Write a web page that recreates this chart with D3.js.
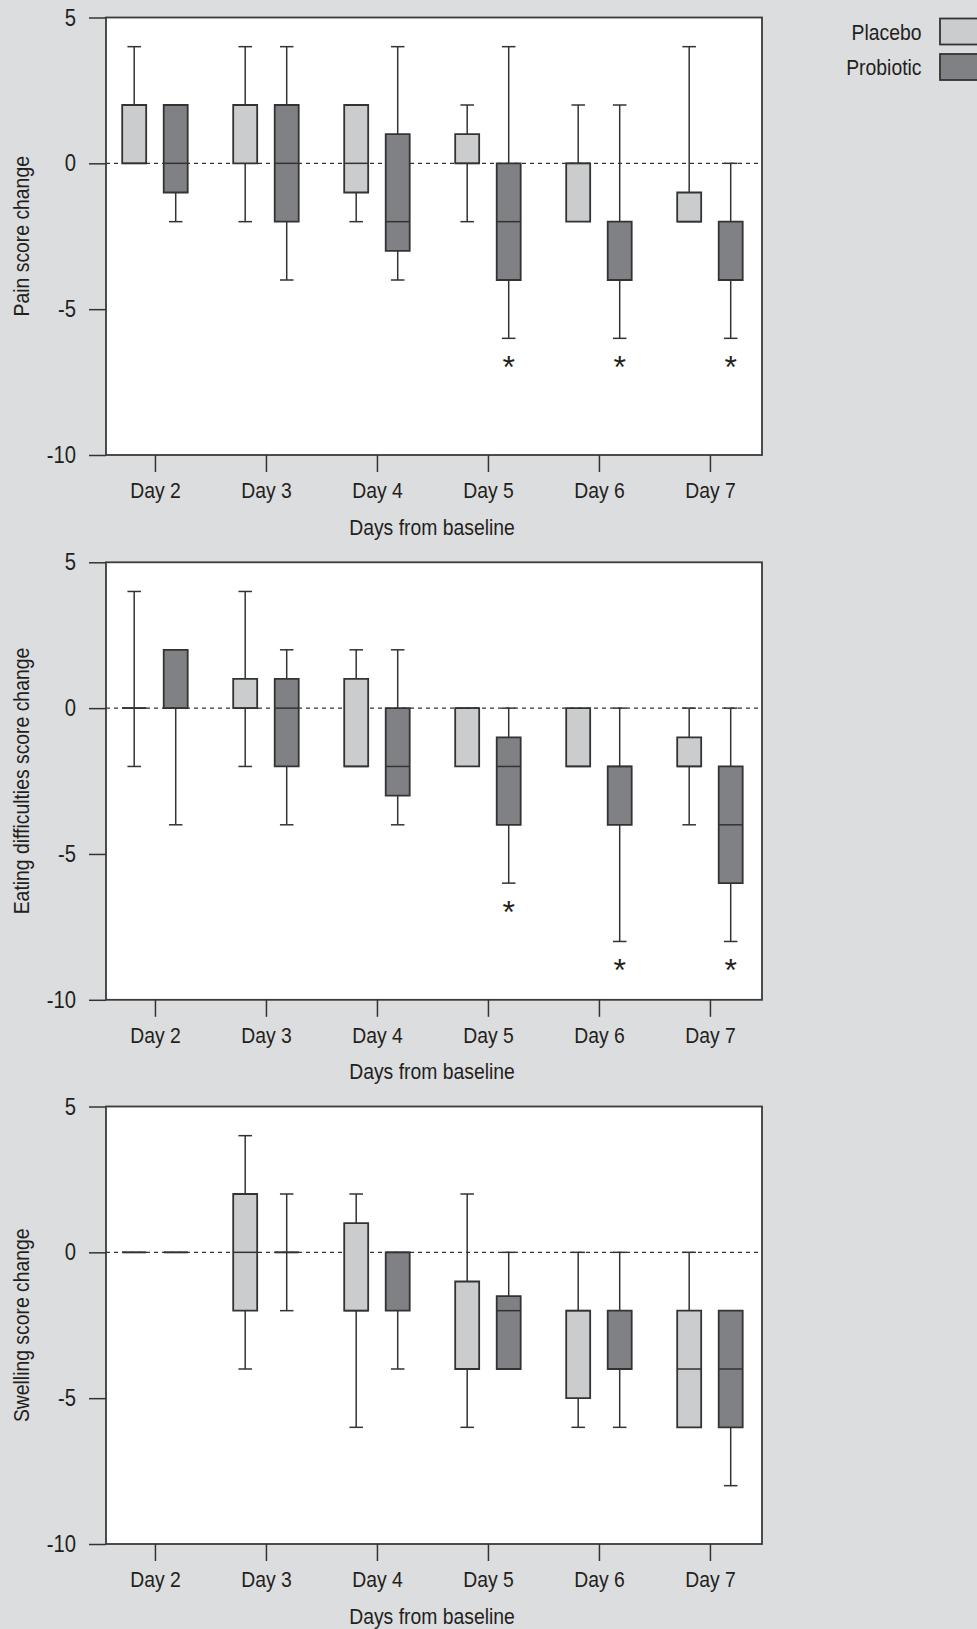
<!DOCTYPE html>
<html>
<head>
<meta charset="utf-8">
<script src="https://cdn.jsdelivr.net/npm/d3@7"></script>
<style>
  html, body { margin: 0; padding: 0; background: #dcdddf; }
  svg { display: block; }
  text { font-family: "Liberation Sans", Arial, Helvetica, sans-serif; fill: #231f20; }
</style>
</head>
<body>
<svg id="chart" width="977" height="1629"></svg>
<script>
// ---------------- data ----------------
const days = [2, 3, 4, 5, 6, 7];
const dayLabels = ["Day 2", "Day 3", "Day 4", "Day 5", "Day 6", "Day 7"];
const yTickValues = [5, 0, -5, -10];
const yTickLabels = ["5", "0", "-5", "-10"];
const groups = ["Placebo", "Probiotic"];
const panelTitles = ["Pain score change", "Eating difficulties score change", "Swelling score change"];
const xTitle = "Days from baseline";

// each entry: [min, q1, median, q3, max] for Day 2..7
const painPlacebo = [
  [0, 0, 0, 2, 4], [-2, 0, 2, 2, 4], [-2, -1, 0, 2, 2],
  [-2, 0, 0, 1, 2], [-2, -2, 0, 0, 2], [-2, -2, -2, -1, 4]
];
const painProbiotic = [
  [-2, -1, 0, 2, 2], [-4, -2, 0, 2, 4], [-4, -3, -2, 1, 4],
  [-6, -4, -2, 0, 4], [-6, -4, -4, -2, 2], [-6, -4, -4, -2, 0]
];
const eatingPlacebo = [
  [-2, 0, 0, 0, 4], [-2, 0, 0, 1, 4], [-2, -2, -2, 1, 2],
  [-2, -2, 0, 0, 0], [-2, -2, -2, 0, 0], [-4, -2, -2, -1, 0]
];
const eatingProbiotic = [
  [-4, 0, 0, 2, 2], [-4, -2, 0, 1, 2], [-4, -3, -2, 0, 2],
  [-6, -4, -2, -1, 0], [-8, -4, -2, -2, 0], [-8, -6, -4, -2, 0]
];
const swellingPlacebo = [
  [0, 0, 0, 0, 0], [-4, -2, 0, 2, 4], [-6, -2, -2, 1, 2],
  [-6, -4, -4, -1, 2], [-6, -5, -2, -2, 0], [-6, -6, -4, -2, 0]
];
const swellingProbiotic = [
  [0, 0, 0, 0, 0], [-2, 0, 0, 0, 2], [-4, -2, 0, 0, 0],
  [-4, -4, -2, -1.5, 0], [-6, -4, -4, -2, 0], [-8, -6, -4, -2, -2]
];
// days with significance star (probiotic group)
const painStars = [5, 6, 7];
const eatingStars = [5, 6, 7];
const swellingStars = [];

// ---------------- layout / style ----------------
const W = 977, H = 1629;
const plotLeft = 106, plotRight = 762;
const panelTops = [17.5, 562.3, 1106.5];
const panelH = 437.5;
const fills = { Placebo: "#cbcccd", Probiotic: "#808185" };
const ink = "#333333";
const FS = 22, SX = 0.88;

const svg = d3.select("#chart");
svg.append("rect").attr("width", W).attr("height", H).attr("fill", "#dcdddf");

const x = d3.scaleLinear().domain([1.559, 7.469]).range([plotLeft, plotRight]);
const unitX = x(1) - x(0);
const groupOffset = { Placebo: -0.187 * unitX, Probiotic: 0.187 * unitX };
const boxHalf = 0.108 * unitX;
const capHalf = 0.061 * unitX;

const panels = [
  { title: panelTitles[0], data: { Placebo: painPlacebo, Probiotic: painProbiotic }, stars: painStars },
  { title: panelTitles[1], data: { Placebo: eatingPlacebo, Probiotic: eatingProbiotic }, stars: eatingStars },
  { title: panelTitles[2], data: { Placebo: swellingPlacebo, Probiotic: swellingProbiotic }, stars: swellingStars }
];

panels.forEach((p, pi) => {
  const top = panelTops[pi], bottom = top + panelH;
  const y = d3.scaleLinear().domain([-10, 5]).range([bottom, top]);
  const g = svg.append("g");

  g.append("rect").attr("x", plotLeft).attr("y", top)
    .attr("width", plotRight - plotLeft).attr("height", bottom - top)
    .attr("fill", "#ffffff");

  // zero reference line
  g.append("line").attr("x1", plotLeft).attr("x2", plotRight)
    .attr("y1", y(0)).attr("y2", y(0))
    .attr("stroke", ink).attr("stroke-width", 1.3).attr("stroke-dasharray", "4,4");

  // boxes
  groups.forEach(gr => {
    p.data[gr].forEach((d, i) => {
      const cx = x(days[i]) + groupOffset[gr];
      const [mn, q1, md, q3, mx] = d;
      const bg = g.append("g");
      if (mx > q3) {
        bg.append("line").attr("x1", cx).attr("x2", cx).attr("y1", y(q3)).attr("y2", y(mx))
          .attr("stroke", ink).attr("stroke-width", 1.5);
        bg.append("line").attr("x1", cx - capHalf).attr("x2", cx + capHalf).attr("y1", y(mx)).attr("y2", y(mx))
          .attr("stroke", ink).attr("stroke-width", 1.5);
      }
      if (mn < q1) {
        bg.append("line").attr("x1", cx).attr("x2", cx).attr("y1", y(q1)).attr("y2", y(mn))
          .attr("stroke", ink).attr("stroke-width", 1.5);
        bg.append("line").attr("x1", cx - capHalf).attr("x2", cx + capHalf).attr("y1", y(mn)).attr("y2", y(mn))
          .attr("stroke", ink).attr("stroke-width", 1.5);
      }
      const x0 = cx - boxHalf, x1 = cx + boxHalf;
      bg.append("path")
        .attr("d", `M${x0},${y(q3)}H${x1}V${y(q1)}H${x0}Z`)
        .attr("fill", fills[gr]).attr("stroke", ink).attr("stroke-width", 1.8);
      bg.append("line").attr("x1", x0).attr("x2", x1).attr("y1", y(md)).attr("y2", y(md))
        .attr("stroke", ink).attr("stroke-width", 1.5);
    });
  });

  // stars
  p.stars.forEach(day => {
    const i = days.indexOf(day);
    const cx = x(day) + groupOffset.Probiotic;
    const cy = y(p.data.Probiotic[i][0] - 0.75);
    g.append("text").attr("x", cx).attr("y", cy + 0.555 * 32)
      .attr("text-anchor", "middle").attr("font-size", 32).text("*");
  });

  // frame
  g.append("rect").attr("x", plotLeft).attr("y", top)
    .attr("width", plotRight - plotLeft).attr("height", bottom - top)
    .attr("fill", "none").attr("stroke", "#3a3a3a").attr("stroke-width", 1.8);

  // y axis
  const ya = g.append("g").attr("transform", `translate(${plotLeft},0)`)
    .call(d3.axisLeft(y).tickValues(yTickValues).tickSize(17).tickSizeOuter(0)
      .tickFormat((d, i) => yTickLabels[i]));
  ya.select(".domain").remove();
  ya.selectAll(".tick line").attr("stroke", ink).attr("stroke-width", 1.5);
  ya.selectAll(".tick text")
    .attr("x", -30 / SX).attr("dy", null).attr("y", 7.6)
    .attr("transform", `scale(${SX},1)`)
    .attr("font-size", FS + 1).attr("font-family", null).attr("fill", "#231f20");

  // x axis
  const xa = g.append("g").attr("transform", `translate(0,${bottom})`)
    .call(d3.axisBottom(x).tickValues(days).tickSize(17).tickSizeOuter(0).tickFormat((d, i) => dayLabels[i]));
  xa.select(".domain").remove();
  xa.selectAll(".tick line").attr("stroke", ink).attr("stroke-width", 1.5);
  xa.selectAll(".tick text")
    .attr("dy", null).attr("y", 43)
    .attr("transform", `scale(${SX},1)`)
    .attr("font-size", FS).attr("font-family", null).attr("fill", "#231f20");

  // x title
  g.append("text").attr("transform", `translate(${(plotLeft + plotRight) / 2 - 2},${bottom + 79.5}) scale(${SX},1)`)
    .attr("text-anchor", "middle").attr("font-size", FS).text(xTitle);

  // y title
  g.append("text").attr("transform", `translate(29.3,${(top + bottom) / 2}) rotate(-90) scale(${SX},1)`)
    .attr("text-anchor", "middle").attr("font-size", FS).text(p.title);
});

// legend
const legY = [31.5, 67];
groups.forEach((gr, i) => {
  svg.append("text").attr("transform", `translate(921.5,${legY[i] + 8}) scale(${SX},1)`)
    .attr("text-anchor", "end").attr("font-size", FS).text(gr);
  svg.append("rect").attr("x", 940).attr("y", legY[i] - 13).attr("width", 60).attr("height", 26)
    .attr("fill", fills[gr]).attr("stroke", ink).attr("stroke-width", 1.8);
});
</script>
</body>
</html>
